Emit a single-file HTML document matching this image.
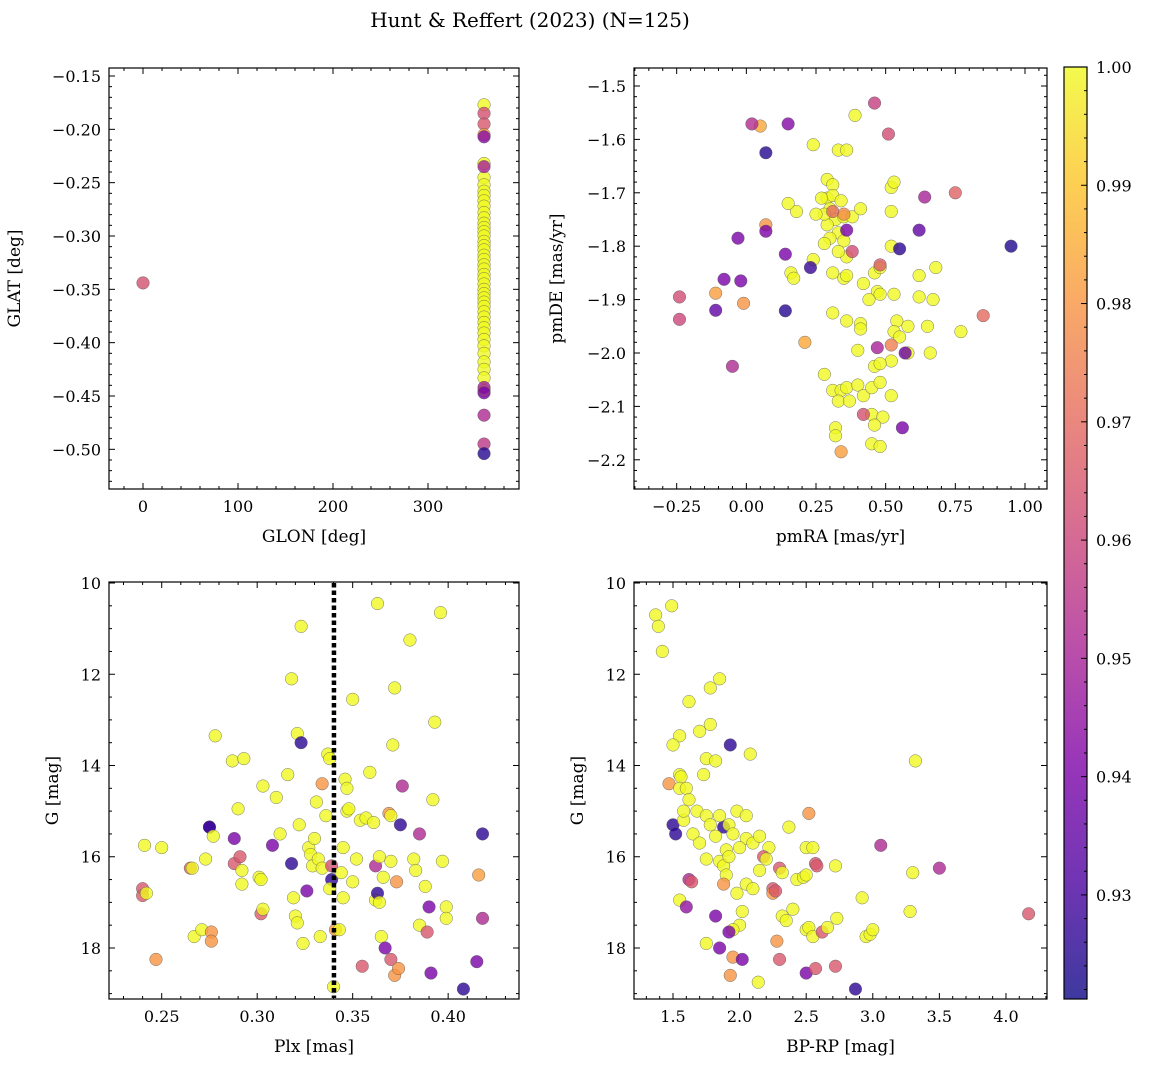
<!DOCTYPE html>
<html><head><meta charset="utf-8"><style>
html,body{margin:0;padding:0;background:#fff;width:1149px;height:1067px;overflow:hidden}
svg text{font-family:"DejaVu Serif","Liberation Serif",serif;fill:#000}
</style></head><body>
<svg id="fig" width="1149" height="1067" xmlns="http://www.w3.org/2000/svg">
<defs><linearGradient id="plasma" x1="0" y1="1" x2="0" y2="0">
<stop offset="0" stop-color="#0d0887"/><stop offset="0.125" stop-color="#4c02a1"/><stop offset="0.25" stop-color="#7e03a8"/><stop offset="0.375" stop-color="#a92395"/><stop offset="0.5" stop-color="#cc4778"/><stop offset="0.625" stop-color="#e56b5d"/><stop offset="0.75" stop-color="#f89540"/><stop offset="0.875" stop-color="#fdc328"/><stop offset="1" stop-color="#f0f921"/>
</linearGradient></defs>
<text x="530" y="27" font-size="20" text-anchor="middle">Hunt &amp; Reffert (2023) (N=125)</text>
</svg>
<script>
// ---- Panel 1: GLON vs GLAT ----
const p1Glon=[359,359,359,359,359,359,359,359,359,359,359,359,359,359,359,359,359,359,359,359,359,359,359,359,359,359,359,359,359,359,359,359,359,359,359,359,359,359,359,359,359,0,359,359,359,359,359,359,359,359,359,359];
const p1Glat=[-0.177,-0.232,-0.245,-0.252,-0.258,-0.262,-0.267,-0.272,-0.278,-0.283,-0.288,-0.292,-0.296,-0.300,-0.305,-0.309,-0.313,-0.318,-0.322,-0.327,-0.331,-0.336,-0.340,-0.345,-0.350,-0.354,-0.358,-0.362,-0.366,-0.371,-0.376,-0.381,-0.386,-0.391,-0.397,-0.403,-0.410,-0.418,-0.425,-0.433,-0.445,-0.344,-0.185,-0.195,-0.205,-0.207,-0.235,-0.442,-0.447,-0.468,-0.495,-0.504];
const p1Prob=[1,1,1,1,1,1,1,1,1,1,1,1,1,1,1,1,1,1,1,1,1,1,1,1,1,1,1,1,1,1,1,1,1,1,1,1,1,1,1,1,1,0.963,0.963,0.965,0.982,0.943,0.95,0.95,0.94,0.952,0.956,0.925];
// ---- Panel 2: pmRA vs pmDE ----
const p2PmRA=[0.24,0.39,0.33,0.36,0.29,0.31,0.29,0.31,0.34,0.27,0.30,0.18,0.15,0.32,0.35,0.38,0.41,0.29,0.33,0.35,0.30,0.28,0.24,0.36,0.33,0.16,0.17,0.31,0.35,0.36,0.42,0.46,0.48,0.52,0.62,0.68,0.47,0.48,0.44,0.53,0.62,0.67,0.31,0.36,0.41,0.41,0.54,0.53,0.55,0.58,0.65,0.77,0.40,0.52,0.58,0.66,0.46,0.48,0.28,0.31,0.34,0.36,0.33,0.37,0.40,0.42,0.45,0.52,0.48,0.45,0.49,0.32,0.32,0.46,0.45,0.48,0.52,0.52,0.53,0.28,0.25,
0.85,0.75,0.51,-0.24,-0.24,0.42,0.48,0.38,0.05,-0.11,-0.01,0.07,0.21,0.34,0.52,0.35,0.31,0.02,-0.05,0.46,0.64,0.47,0.15,-0.08,-0.02,-0.11,-0.03,0.07,0.14,0.62,0.57,0.56,0.36,0.07,0.14,0.23,0.55,0.95];
const p2PmDE=[-1.61,-1.555,-1.62,-1.62,-1.675,-1.685,-1.71,-1.705,-1.715,-1.71,-1.73,-1.735,-1.72,-1.75,-1.745,-1.745,-1.73,-1.76,-1.775,-1.79,-1.785,-1.795,-1.825,-1.82,-1.81,-1.85,-1.86,-1.85,-1.86,-1.855,-1.87,-1.85,-1.84,-1.80,-1.855,-1.84,-1.885,-1.89,-1.9,-1.89,-1.895,-1.9,-1.925,-1.94,-1.945,-1.955,-1.94,-1.96,-1.97,-1.95,-1.95,-1.96,-1.995,-2.015,-2.0,-2.0,-2.025,-2.02,-2.04,-2.07,-2.07,-2.065,-2.09,-2.09,-2.06,-2.08,-2.065,-2.08,-2.055,-2.115,-2.12,-2.14,-2.155,-2.135,-2.17,-2.175,-1.735,-1.69,-1.68,-1.74,-1.74,
-1.93,-1.70,-1.59,-1.895,-1.937,-2.115,-1.835,-1.81,-1.575,-1.888,-1.907,-1.76,-1.98,-2.185,-1.985,-1.74,-1.735,-1.571,-2.025,-1.532,-1.708,-1.99,-1.571,-1.862,-1.865,-1.92,-1.785,-1.772,-1.815,-1.77,-2.0,-2.14,-1.77,-1.625,-1.921,-1.84,-1.805,-1.80];
const p2Prob=[1,1,1,1,1,1,1,1,1,1,1,1,1,1,1,1,1,1,1,1,1,1,1,1,1,1,1,1,1,1,1,1,1,1,1,1,1,1,1,1,1,1,1,1,1,1,1,1,1,1,1,1,1,1,1,1,1,1,1,1,1,1,1,1,1,1,1,1,1,1,1,1,1,1,1,1,1,1,1,1,1,
0.97,0.968,0.962,0.962,0.96,0.963,0.966,0.962,0.984,0.982,0.98,0.98,0.984,0.982,0.975,0.978,0.97,0.953,0.952,0.958,0.95,0.95,0.942,0.94,0.94,0.935,0.94,0.94,0.94,0.935,0.937,0.94,0.94,0.925,0.925,0.928,0.926,0.924];
// ---- Panel 3: Plx vs G ----
const p3Plx=[0.24,0.24,0.241,0.242,0.247,0.25,0.265,0.266,0.267,0.271,0.273,0.275,0.275,0.276,0.276,0.277,0.278,0.287,0.288,0.288,0.29,0.291,0.292,0.292,0.293,0.301,0.302,0.302,0.303,0.303,0.308,0.31,0.312,0.316,0.318,0.318,0.319,0.32,0.321,0.321,0.322,0.323,0.323,0.324,0.326,0.327,0.328,0.329,0.33,0.331,0.332,0.333,0.334,0.334,0.336,0.337,0.338,0.339,0.339,0.338,0.34,0.341,0.343,0.344,0.345,0.345,0.346,0.347,0.347,0.348,0.35,0.35,0.352,0.354,0.355,0.357,0.359,0.361,0.362,0.362,0.363,0.363,0.364,0.364,0.365,0.366,0.367,0.369,0.37,0.37,0.37,0.371,0.372,0.372,0.373,0.374,0.375,0.376,0.38,0.382,0.383,0.385,0.385,0.388,0.389,0.39,0.391,0.392,0.393,0.396,0.397,0.399,0.399,0.408,0.415,0.416,0.418,0.418];
const p3G=[16.7,16.85,15.75,16.8,18.25,15.8,16.25,16.25,17.75,17.6,16.05,15.35,15.35,17.65,17.85,15.55,13.35,13.9,15.6,16.15,14.95,16.0,16.3,16.6,13.85,16.45,16.5,17.25,17.15,14.45,15.75,14.7,15.5,14.2,12.1,16.15,16.9,17.3,17.45,13.3,15.3,13.5,10.95,17.9,16.75,15.8,15.95,16.2,15.6,14.8,16.05,17.75,14.4,16.25,15.1,13.75,13.85,16.2,16.5,16.7,18.85,17.6,17.6,16.35,16.9,15.8,14.3,14.5,15.0,14.95,12.55,16.55,16.05,15.2,18.4,15.15,14.15,15.25,16.2,16.95,16.8,10.45,16.0,17.0,17.75,16.45,18.0,15.05,15.1,16.1,18.25,13.55,12.3,18.6,16.55,18.45,15.3,14.45,11.25,16.05,16.3,15.5,17.5,16.65,17.65,17.1,18.55,14.75,13.05,10.65,16.1,17.1,17.35,18.9,18.3,16.4,15.5,17.35];
const p3Prob=[0.965,0.966,1,1,0.98,1,0.968,1,1,1,1,0.94,0.926,0.98,0.98,1,1,1,0.94,0.965,1,0.965,1,1,1,1,1,0.966,1,1,0.94,1,1,1,1,0.926,1,1,1,1,1,0.926,1,1,0.94,1,1,1,1,1,1,1,0.98,1,1,1,1,0.963,0.926,1,1,0.982,1,1,1,1,1,1,1,1,1,1,1,1,0.965,1,1,1,0.952,1,0.926,1,1,1,1,1,0.94,0.98,1,1,0.965,1,1,0.98,0.98,0.98,0.926,0.952,1,1,1,0.952,1,1,0.965,0.94,0.94,1,1,1,1,1,1,0.926,0.94,0.982,0.926,0.952];
const p3RefPlx=[0.3402];
// ---- Panel 4: BP-RP vs G ----
const p4BpRp=[1.37,1.49,1.39,1.42,1.62,1.78,1.85,1.55,1.5,1.7,1.78,1.47,1.55,1.56,1.55,1.6,1.62,1.75,1.82,1.73,1.93,2.08,1.5,1.52,1.58,1.58,1.68,1.65,1.75,1.78,1.88,1.85,1.92,1.98,2.05,1.95,2.05,1.7,1.82,1.9,2.0,2.1,2.15,2.22,2.37,2.52,2.5,2.55,2.57,2.58,1.75,1.85,1.88,1.92,2.18,2.2,2.3,2.32,2.15,2.05,2.1,1.9,1.88,1.62,1.64,1.55,1.6,2.25,2.25,2.27,2.43,2.48,2.5,2.72,1.98,2.02,2.0,1.82,2.32,2.35,2.4,2.5,2.52,2.55,2.62,2.66,2.73,1.95,1.92,1.75,1.85,1.95,2.02,2.28,2.3,1.93,2.14,2.5,2.57,2.72,2.87,2.92,2.95,2.98,3.0,3.06,3.28,3.3,3.32,3.5,4.17];
const p4G=[10.7,10.5,10.95,11.5,12.6,12.3,12.1,13.35,13.55,13.25,13.1,14.4,14.2,14.25,14.5,14.5,14.75,13.85,13.9,14.2,13.55,13.75,15.3,15.5,15.2,15.0,15.0,15.5,15.1,15.3,15.35,15.1,15.3,15.0,15.1,15.5,15.6,15.7,15.55,15.85,15.8,15.7,15.55,15.8,15.35,15.05,15.8,15.8,16.15,16.2,16.05,16.1,16.2,16.0,16.0,16.05,16.25,16.35,16.3,16.6,16.7,16.4,16.6,16.5,16.55,16.95,17.1,16.7,16.8,16.75,16.5,16.45,16.4,16.2,16.8,17.2,17.5,17.3,17.3,17.4,17.15,17.6,17.55,17.75,17.65,17.55,17.35,17.6,17.65,17.9,18.0,18.2,18.25,17.85,18.25,18.6,18.75,18.55,18.45,18.4,18.9,16.9,17.75,17.7,17.6,15.75,17.2,16.35,13.9,16.25,17.25];
const p4Prob=[1,1,1,1,1,1,1,1,1,1,1,0.98,1,1,1,1,1,1,1,1,0.926,1,0.926,0.926,1,1,1,1,1,1,0.926,1,1,1,1,1,1,1,1,1,1,1,1,1,1,0.98,1,1,0.965,0.965,1,1,1,1,0.965,1,0.965,1,1,1,1,1,0.98,0.952,0.965,1,0.945,0.965,0.98,0.965,1,1,1,1,1,1,1,0.94,1,1,1,1,1,1,0.965,1,1,1,0.94,1,0.94,0.98,0.94,0.98,0.965,0.98,1,0.94,0.965,0.965,0.926,1,1,1,1,0.952,1,1,1,0.952,0.965];
const cbTicks=[0.93,0.94,0.95,0.96,0.97,0.98,0.99,1.00];

const NS="http://www.w3.org/2000/svg";
const svg=document.getElementById('fig');
function mk(tag,attrs,parent){const e=document.createElementNS(NS,tag);for(const k in attrs)e.setAttribute(k,attrs[k]);(parent||svg).appendChild(e);return e;}
const VMIN=0.9212,VMAX=1.0;
const stops=[[13,8,135],[76,2,161],[126,3,168],[169,35,149],[204,71,120],[229,107,93],[248,149,64],[253,195,40],[240,249,33]];
function plasma(v){let t=(v-VMIN)/(VMAX-VMIN);t=Math.max(0,Math.min(1,t))*8;const i=Math.min(7,Math.floor(t)),f=t-i;const a=stops[i],b=stops[i+1];return 'rgb('+a.map((c,j)=>Math.round(c+(b[j]-c)*f)).join(',')+')';}
function fmt(v,d){const s=Math.abs(v).toFixed(d);return (v<-1e-9?'\u2212':'')+s;}

function panel(name,box,xr,yr,xMaj,xMin,yMaj,yMin,xd,yd,xs,ys,ps,xlabel,ylabel,ylx){
  const [L,T,R,B]=box;
  const g=mk('g',{});
  
  
  const X=v=>L+(v-xr[0])/(xr[1]-xr[0])*(R-L);
  const Y=v=>T+(v-yr[0])/(yr[1]-yr[0])*(B-T);
  const clip=mk('clipPath',{id:'c'+name},g);mk('rect',{x:L,y:T,width:R-L,height:B-T},clip);
  const pts=mk('g',{'clip-path':'url(#c'+name+')'},g);
  for(let i=0;i<xs.length;i++){
    const c=mk('circle',{cx:X(xs[i]),cy:Y(ys[i]),r:6.3,fill:plasma(ps[i]),'fill-opacity':0.8,stroke:'#555','stroke-width':0.4},pts);
    
    
  }
  mk('rect',{x:L,y:T,width:R-L,height:B-T,fill:'none',stroke:'#000','stroke-width':1.2},g);
  const lo=Math.min(xr[0],xr[1]),hi=Math.max(xr[0],xr[1]);
  for(let k=Math.ceil(lo/xMin-1e-6);k*xMin<=hi+1e-9;k++){const v=k*xMin;const maj=Math.abs(v/xMaj-Math.round(v/xMaj))<1e-6;const len=maj?6:3;const x=X(v);
    mk('line',{x1:x,x2:x,y1:B,y2:B-len,stroke:'#000','stroke-width':1},g);mk('line',{x1:x,x2:x,y1:T,y2:T+len,stroke:'#000','stroke-width':1},g);
    if(maj){const t=mk('text',{x:x,y:B+23,'font-size':16,'text-anchor':'middle'},g);t.textContent=fmt(v,xd);}}
  const ylo=Math.min(yr[0],yr[1]),yhi=Math.max(yr[0],yr[1]);
  for(let k=Math.ceil(ylo/yMin-1e-6);k*yMin<=yhi+1e-9;k++){const v=k*yMin;const maj=Math.abs(v/yMaj-Math.round(v/yMaj))<1e-6;const len=maj?6:3;const y=Y(v);
    mk('line',{x1:L,x2:L+len,y1:y,y2:y,stroke:'#000','stroke-width':1},g);mk('line',{x1:R,x2:R-len,y1:y,y2:y,stroke:'#000','stroke-width':1},g);
    if(maj){const t=mk('text',{x:L-8,y:y+6,'font-size':16,'text-anchor':'end'},g);t.textContent=fmt(v,yd);}}
  const xl=mk('text',{x:(L+R)/2,y:B+53,'font-size':17,'text-anchor':'middle'},g);xl.textContent=xlabel;
  
  
  const yl=mk('text',{x:ylx,y:(T+B)/2,'font-size':17,'text-anchor':'middle',transform:'rotate(-90 '+ylx+' '+((T+B)/2)+')'},g);yl.textContent=ylabel;
  
  
  return {X,Y,g};
}
panel('panel-glon-glat',[109,68,519,489],[-35.8,395.8],[-0.1425,-0.5372],100,20,0.05,0.01,0,2,p1Glon,p1Glat,p1Prob,'GLON [deg]','GLAT [deg]',20);
panel('panel-pm',[634,68,1047,489],[-0.4032,1.079],[-1.4663,-2.2547],0.25,0.05,0.1,0.02,2,1,p2PmRA,p2PmDE,p2Prob,'pmRA [mas/yr]','pmDE [mas/yr]',562);
const p3=panel('panel-plx-g',[109,582,519,999],[0.2224,0.4371],[9.978,19.118],0.05,0.01,2,0.5,2,0,p3Plx,p3G,p3Prob,'Plx [mas]','G [mag]',58);
for(let i=0;i<p3RefPlx.length;i++){
  const vl=mk('line',{x1:p3.X(p3RefPlx[i]),x2:p3.X(p3RefPlx[i]),y1:583,y2:998,stroke:'#000','stroke-width':4.5,'stroke-dasharray':'4.5 3'},p3.g);
  
  
}
panel('panel-cmd',[634,582,1047,999],[1.2072,4.308],[9.978,19.118],0.5,0.1,2,0.5,1,0,p4BpRp,p4G,p4Prob,'BP-RP [mag]','G [mag]',583);
// colorbar
const cb=mk('g',{});


mk('rect',{x:1064,y:67,width:23,height:932,fill:'url(#plasma)','fill-opacity':0.8},cb);
mk('rect',{x:1064,y:67,width:23,height:932,fill:'none',stroke:'#000','stroke-width':1.2},cb);
const CY=v=>67+(VMAX-v)/(VMAX-VMIN)*932;
for(let k=461;k<=500;k++){const v=k*0.002;if(v<VMIN)continue;const y=CY(v);const maj=(k%5===0);
  mk('line',{x1:1087,x2:1087-(maj?6:3),y1:y,y2:y,stroke:'#000','stroke-width':1},cb);}
for(let i=0;i<cbTicks.length;i++){const t=mk('text',{x:1096,y:CY(cbTicks[i])+6,'font-size':16},cb);t.textContent=cbTicks[i].toFixed(2);
  
  }
</script>
</body></html>
